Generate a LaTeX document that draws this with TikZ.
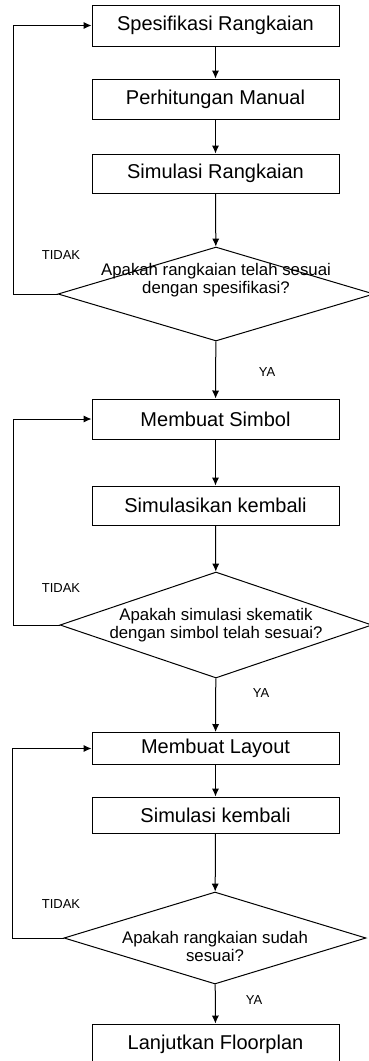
\documentclass[tikz,border=0pt]{standalone}
\usepackage{fontspec}
\setmainfont{Liberation Sans}
\usetikzlibrary{shapes.geometric, arrows.meta}

\begin{document}
\begin{tikzpicture}[x=0.5pt, y=-0.5pt, >={Latex[length=4pt, width=3.6pt]}, line width=0.5pt,
    proses/.style={draw, rectangle, minimum width=123.5pt, inner sep=0pt,
      font=\fontsize{10}{12}\selectfont},
    keputusan/.style={draw, diamond, inner sep=0pt},
    tanya/.style={align=center, font=\fontsize{8.4}{9}\selectfont},
    jawab/.style={font=\fontsize{6.5}{7}\selectfont}]
      \useasboundingbox (0,0) rectangle (369,1061);
      % tahap 1
      \node[proses, minimum height=20.5pt] (spek) at (215.5,25.5) {Spesifikasi Rangkaian};
      \node[proses, minimum height=20pt] (hitung) at (215.5,99) {Perhitungan Manual};
      \node[proses, minimum height=19.5pt] (sim1) at (215.5,173.5) {Simulasi Rangkaian};
      \node[keputusan, minimum width=158pt, minimum height=47pt] (cek1) at (216,294) {};
      \node[tanya] (t1) at ([yshift=7pt]cek1) {Apakah rangkaian telah sesuai\\dengan spesifikasi?};
      % tahap 2
      \node[proses, minimum height=20pt] (simbol) at (215.5,419) {Membuat Simbol};
      \node[proses, minimum height=19.5pt] (sim2) at (215.5,505.5) {Simulasikan kembali};
      \node[keputusan, minimum width=156pt, minimum height=53pt] (cek2) at (216,625) {};
      \node[tanya] (t2) at (cek2) {Apakah simulasi skematik\\dengan simbol telah sesuai?};
      % tahap 3
      \node[proses, minimum height=16pt] (layout) at (215.5,748.5) {Membuat Layout};
      \node[proses, minimum height=18pt] (sim3) at (215.5,815) {Simulasi kembali};
      \node[keputusan, minimum width=151pt, minimum height=46pt] (cek3) at (215,938) {};
      \node[tanya] (t3) at ([yshift=-4pt]cek3) {Apakah rangkaian sudah\\sesuai?};
      \node[proses, minimum height=20pt] (lanjut) at (215.5,1044) {Lanjutkan Floorplan};

      \node[jawab] (tidak1) at (61,255) {TIDAK};
      \node[jawab] (tidak2) at (61,588) {TIDAK};
      \node[jawab] (tidak3) at (61,904) {TIDAK};
      \node[jawab] (ya1) at (267,372) {YA};
      \node[jawab] (ya2) at (261,693) {YA};
      \node[jawab] (ya3) at (254,1000) {YA};

      \draw[->] (spek) -- (hitung);
      \draw[->] (hitung) -- (sim1);
      \draw[->] (sim1) -- (cek1);
      \draw[->] (cek1) -- (simbol);
      \draw[->] (simbol) -- (sim2);
      \draw[->] (sim2) -- (cek2);
      \draw[->] (cek2) -- (layout);
      \draw[->] (layout) -- (sim3);
      \draw[->] (sim3) -- (cek3);
      \draw[->] (cek3) -- (lanjut);
      % umpan balik
      \draw[->] (cek1.west) -- ++(-44,0) |- (spek.west);
      \draw[->] (cek2.west) -- ++(-46,0) |- (simbol.west);
      \draw[->] (cek3.west) -- ++(-51,0) |- (layout.west);
    \end{tikzpicture}
\end{document}
